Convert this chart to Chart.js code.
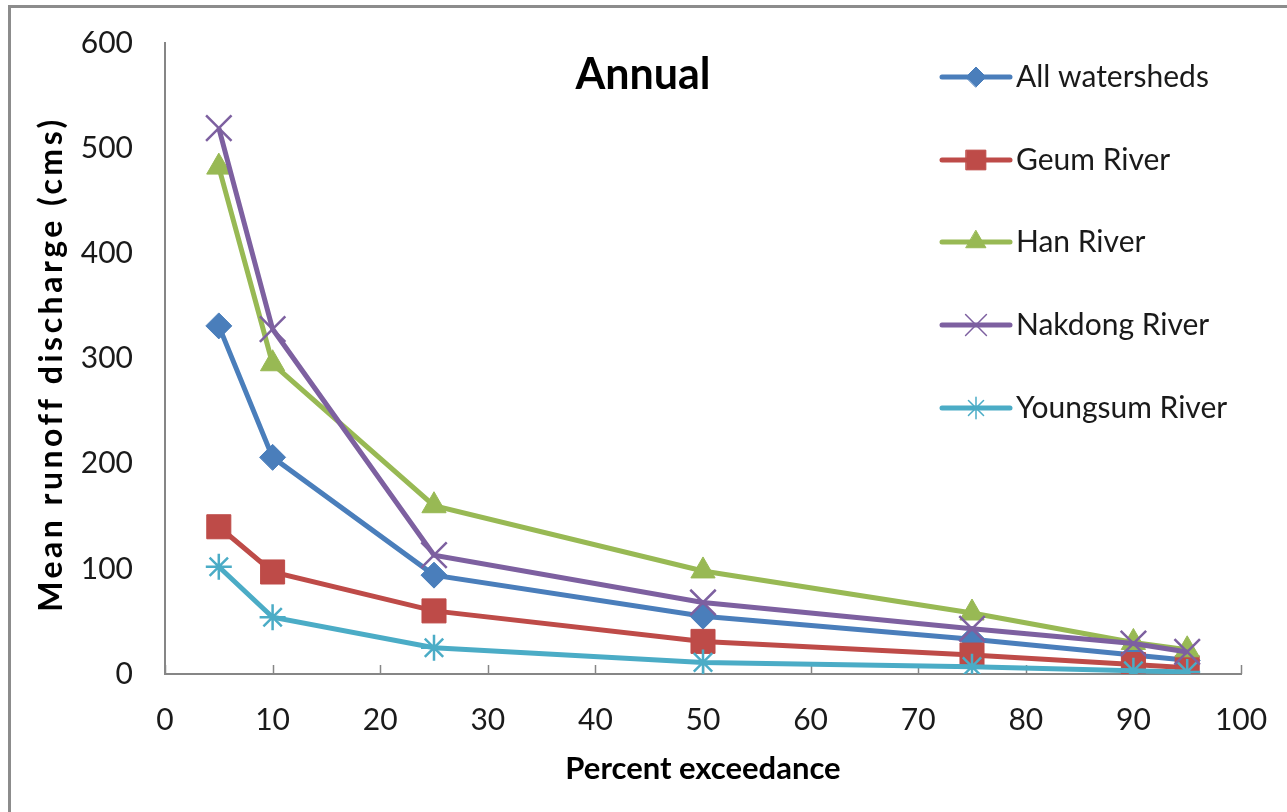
<!DOCTYPE html>
<html>
<head>
<meta charset="utf-8">
<title>Annual flow duration</title>
<script src="https://cdn.jsdelivr.net/npm/chart.js@4.4.0/dist/chart.umd.min.js"></script>
<style>
  html, body { margin: 0; padding: 0; background: #ffffff; }
  #wrap { position: relative; width: 1287px; height: 812px; overflow: hidden; background: #ffffff; }
  #frame { position: absolute; left: 8px; top: 5px; width: 1400px; height: 900px;
           border-left: 3px solid #8c8c8c; border-top: 3px solid #8c8c8c; }
  #c { position: absolute; left: 0; top: 0; }
</style>
</head>
<body>
<div id="wrap">
  <div id="frame"></div>
  <canvas id="c" width="1287" height="812"></canvas>
</div>
<script>
// Percent of time a discharge is equalled or exceeded
const exceedance = [5, 10, 25, 50, 75, 90, 95];

// Mean runoff discharge (cms) per watershed
const allWatersheds = [331, 206, 94, 55, 33, 18, 13];
const geumRiver     = [140, 97, 60, 31, 18, 9, 6];
const hanRiver      = [482, 295, 160, 98, 58, 30, 23];
const nakdongRiver  = [519, 328, 113, 68, 43, 29, 21];
const youngsumRiver = [102, 54, 25, 11, 7, 3, 2];

const seriesNames = ['All watersheds', 'Geum River', 'Han River', 'Nakdong River', 'Youngsum River'];
const chartTitle = 'Annual';
const xAxisTitle = 'Percent exceedance';
const yAxisTitle = 'Mean runoff discharge (cms)';

const FONT = 'Lato, "Open Sans", sans-serif';
const TEXT = '#1a1a1a';
const AXIS = '#868686';

const toPoints = vals => exceedance.map((x, i) => ({ x: x, y: vals[i] }));

const styles = [
  { color: '#4a7ebb', pointStyle: 'rectRot',  radius: 13, borderWidth: 1 },
  { color: '#be4b48', pointStyle: 'rect',     radius: 17, borderWidth: 1 },
  { color: '#98b954', pointStyle: 'triangle', radius: 14, borderWidth: 1 },
  { color: '#7d60a0', pointStyle: 'crossRot', radius: 18, borderWidth: 2.5 },
  { color: '#4bacc6', pointStyle: 'star',     radius: 13, borderWidth: 2.5 }
];

const seriesValues = [allWatersheds, geumRiver, hanRiver, nakdongRiver, youngsumRiver];

const datasets = seriesNames.map((name, i) => ({
  label: name,
  data: toPoints(seriesValues[i]),
  borderColor: styles[i].color,
  backgroundColor: styles[i].color,
  borderWidth: 5,
  tension: 0,
  pointStyle: styles[i].pointStyle,
  pointRadius: styles[i].radius,
  pointBorderWidth: styles[i].borderWidth,
  pointBackgroundColor: styles[i].color,
  pointBorderColor: styles[i].color,
  order: seriesNames.length - i
}));

// Chart title inside the plot and the vertical axis title
const titlePlugin = {
  id: 'insideTitle',
  afterDraw(chart) {
    const { ctx } = chart;
    ctx.save();
    ctx.font = 'bold 43px ' + FONT;
    ctx.fillStyle = '#000000';
    ctx.textAlign = 'center';
    ctx.textBaseline = 'middle';
    ctx.fillText(chartTitle, 643, 75);
    ctx.restore();

    ctx.save();
    ctx.translate(52, 364);
    ctx.rotate(-Math.PI / 2);
    ctx.font = 'bold 32px ' + FONT;
    ctx.letterSpacing = '3.5px';
    ctx.fillStyle = '#000000';
    ctx.textAlign = 'center';
    ctx.textBaseline = 'middle';
    ctx.fillText(yAxisTitle, 0, 0);
    ctx.restore();
  }
};

// Short tick marks pointing up from the x axis into the plot
const innerTicksPlugin = {
  id: 'innerTicks',
  beforeDatasetsDraw(chart) {
    const { ctx } = chart;
    const xs = chart.scales.x;
    ctx.save();
    ctx.strokeStyle = AXIS;
    ctx.lineWidth = 1.5;
    xs.ticks.forEach(t => {
      const px = Math.round(xs.getPixelForValue(t.value)) + 0.5;
      ctx.beginPath();
      ctx.moveTo(px, xs.top);
      ctx.lineTo(px, xs.top - 9);
      ctx.stroke();
    });
    ctx.restore();
  }
};

// Legend stacked in the upper-right corner of the plot
const legendPlugin = {
  id: 'sideLegend',
  afterDraw(chart) {
    const { ctx } = chart;
    const x0 = 942, x1 = 1010, textX = 1016;
    const rowY = [77, 160, 242, 325, 408];
    ctx.save();
    chart.data.datasets.forEach((ds, i) => {
      const y = rowY[i];
      ctx.strokeStyle = ds.borderColor;
      ctx.lineWidth = 5;
      ctx.lineCap = 'round';
      ctx.beginPath();
      ctx.moveTo(x0, y);
      ctx.lineTo(x1, y);
      ctx.stroke();
      ctx.fillStyle = ds.pointBackgroundColor;
      ctx.strokeStyle = ds.pointBorderColor;
      ctx.lineWidth = ds.pointStyle === 'crossRot' || ds.pointStyle === 'star' ? 1.5 : 1;
      Chart.helpers.drawPoint(ctx, {
        pointStyle: ds.pointStyle,
        radius: ds.pointStyle === 'rectRot' ? 10 : ds.pointRadius * 0.82,
        rotation: 0,
        borderWidth: ctx.lineWidth
      }, (x0 + x1) / 2, y);
      ctx.font = '30px ' + FONT;
      ctx.fillStyle = TEXT;
      ctx.textAlign = 'left';
      ctx.textBaseline = 'middle';
      ctx.fillText(ds.label, textX, y);
    });
    ctx.restore();
  }
};

new Chart(document.getElementById('c'), {
  type: 'line',
  data: { datasets: datasets },
  plugins: [innerTicksPlugin, titlePlugin, legendPlugin],
  options: {
    responsive: false,
    animation: false,
    devicePixelRatio: 1,
    layout: { autoPadding: false, padding: { left: 0, top: 43, right: 46, bottom: 0 } },
    plugins: {
      legend: { display: false },
      title: { display: false },
      tooltip: { enabled: false }
    },
    scales: {
      x: {
        type: 'linear',
        min: 0,
        max: 100,
        ticks: { stepSize: 10, color: TEXT, padding: 28, font: { family: FONT, size: 30 } },
        grid: { display: false, drawTicks: false },
        border: { display: true, color: AXIS, width: 2 },
        title: { display: true, text: xAxisTitle, color: '#000000',
                 font: { family: FONT, size: 31, weight: 'bold' }, padding: { top: 0, bottom: 24 } },
        afterFit(scale) {
          scale.height = 138;
          scale.paddingLeft = 0;
          scale.paddingRight = 0;
        }
      },
      y: {
        type: 'linear',
        min: 0,
        max: 600,
        ticks: { stepSize: 100, color: TEXT, padding: 32, font: { family: FONT, size: 30 } },
        grid: { display: false, drawTicks: false },
        border: { display: true, color: AXIS, width: 2 },
        title: { display: false },
        afterFit(scale) {
          scale.width = 165;
          scale.paddingTop = 0;
          scale.paddingBottom = 0;
        }
      }
    }
  }
});
</script>
</body>
</html>
